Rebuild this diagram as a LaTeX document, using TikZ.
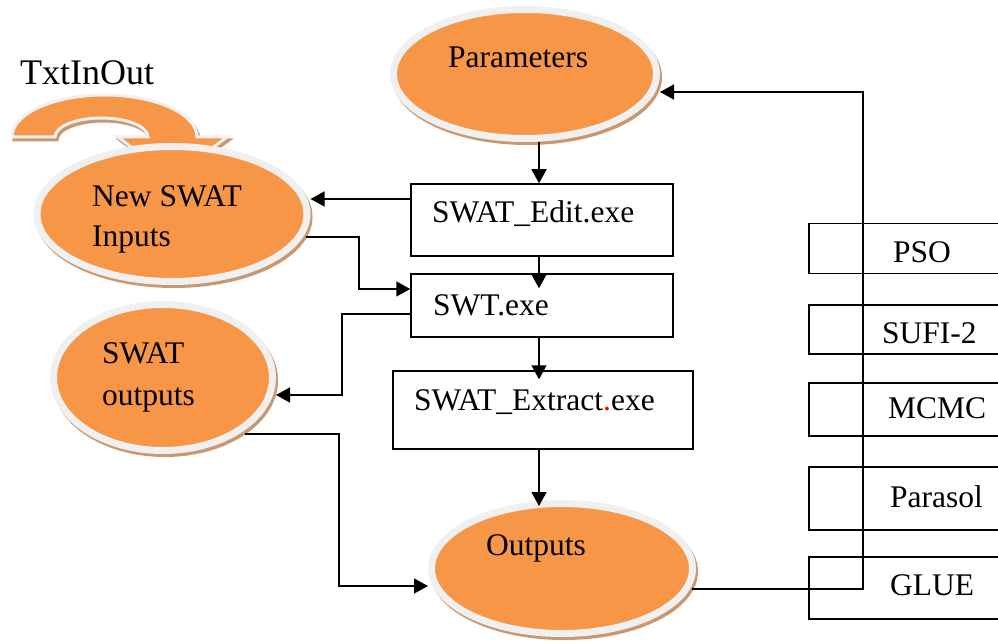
\documentclass[tikz,border=0pt]{standalone}
\usepackage{fontspec}
\setmainfont{Liberation Serif}
\usetikzlibrary{arrows.meta,shapes.geometric}
\definecolor{orng}{HTML}{F79646}
\definecolor{ringc}{HTML}{F0F0F0}
\definecolor{shad}{RGB}{200,152,112}
\begin{document}
\begin{tikzpicture}[x=1pt,y=-1pt,
  oval/.style={ellipse, fill=orng, draw=ringc, line width=7pt, inner sep=0pt},
  ovalshadow/.style={ellipse, fill=shad, draw=shad, line width=7pt, inner sep=0pt},
  box/.style={rectangle, draw=black, line width=1.5pt, inner sep=0pt},
  lbl/.style={anchor=base west, inner sep=0pt, font=\fontsize{31.5}{38}\selectfont},
  conn/.style={line width=1.5pt},
  arr/.style={line width=1.5pt, -{Triangle[length=14pt,width=15pt]}}]
\useasboundingbox (0,0) rectangle (998,644);
\clip (0,0) rectangle (998,644);

% TxtInOut curved arrow
\def\uturn{(12,137) .. controls (12,113.8) and (53.4,95) .. (104.5,95)
  .. controls (155.6,95) and (197,113.8) .. (197,137)
  -- (227,137) -- (172,178) -- (118,137) -- (148,137)
  .. controls (148,126.5) and (127.2,118) .. (101.5,118)
  .. controls (75.8,118) and (55,126.5) .. (55,137) -- cycle}
\begin{scope}[shift={(2,3)}]
  \fill[shad, draw=shad, line width=3pt] \uturn;
\end{scope}
\fill[orng, draw=ringc, line width=3pt] \uturn;
\node[lbl, font=\fontsize{36}{40}\selectfont] (ttxt) at (20,85) {TxtInOut};

% ellipses with shadows
\node[ovalshadow, minimum width=263pt, minimum height=129pt] (paramsS) at (527,77) {};
\node[oval, minimum width=263pt, minimum height=129pt] (params) at (525,74) {};
\node[ovalshadow, minimum width=270pt, minimum height=135pt] (newswatS) at (174,217) {};
\node[oval, minimum width=270pt, minimum height=135pt] (newswat) at (172,214) {};
\node[ovalshadow, minimum width=219pt, minimum height=146pt] (swatoutS) at (165,380.5) {};
\node[oval, minimum width=219pt, minimum height=146pt] (swatout) at (163,377.5) {};
\node[ovalshadow, minimum width=261pt, minimum height=130pt] (outputsS) at (564,571.5) {};
\node[oval, minimum width=261pt, minimum height=130pt] (outputs) at (562,568.5) {};

% middle boxes
\node[box, minimum width=262pt, minimum height=72pt] (edit) at (542,220) {};
\node[box, minimum width=262pt, minimum height=63pt] (swt) at (542,305.5) {};
\node[box, minimum width=300pt, minimum height=78pt] (extract) at (543,410) {};

% right boxes
\node[box, anchor=north west, minimum width=230pt, minimum height=50pt] (pso) at (808,223) {};
\node[box, anchor=north west, minimum width=230pt, minimum height=49pt] (sufi) at (808,304) {};
\node[box, anchor=north west, minimum width=230pt, minimum height=53pt] (mcmc) at (808,382) {};
\node[box, anchor=north west, minimum width=230pt, minimum height=63pt] (parasol) at (808,466) {};
\node[box, anchor=north west, minimum width=230pt, minimum height=62pt] (glue) at (808,556) {};

% texts
\node[lbl] (tparams) at (448,68) {Parameters};
\node[lbl] (tnew1) at (92,207) {New SWAT};
\node[lbl] (tnew2) at (92,247) {Inputs};
\node[lbl] (tout1) at (102,363) {SWAT};
\node[lbl] (tout2) at (102,405) {outputs};
\node[lbl] (toutputs) at (486,555) {Outputs};
\node[lbl] (tedit) at (432,223) {SWAT\_Edit.exe};
\node[lbl] (tswt) at (433,315) {SWT.exe};
\node[lbl] (textract) at (414,410) {SWAT\_Extract{\color{red}.}exe};
\node[lbl] (tpso) at (893,263) {PSO};
\node[lbl] (tsufi) at (882,343) {SUFI-2};
\node[lbl] (tmcmc) at (888,418) {MCMC};
\node[lbl] (tparasol) at (890,507) {Parasol};
\node[lbl] (tglue) at (890,595) {GLUE};

% connectors
\coordinate (sp) at (539,0);
\draw[arr] (params.south -| sp) -- (edit.north -| sp);
\draw[arr, shorten >=-15pt] (edit.south -| sp) -- (swt.north -| sp);
\draw[arr, shorten >=-9pt] (swt.south -| sp) -- (extract.north -| sp);
\draw[arr, shorten >=-6pt] (extract.south -| sp) -- (outputs.north -| sp);
\draw[arr] (edit.west |- 0,199) -- (newswat.east |- 0,199);
\draw[arr] (306,237) -| (359,289) -- (swt.west |- 0,289);
\draw[arr] (swt.west |- 0,314) -| (342,395) -- (swatout.east |- 0,395);
\draw[arr] (245,434) -| (339,586) -- (outputs.west |- 0,586);
\draw[arr] (692,589) -| (863,92) -- (params.east |- 0,92);
\end{tikzpicture}
\end{document}
